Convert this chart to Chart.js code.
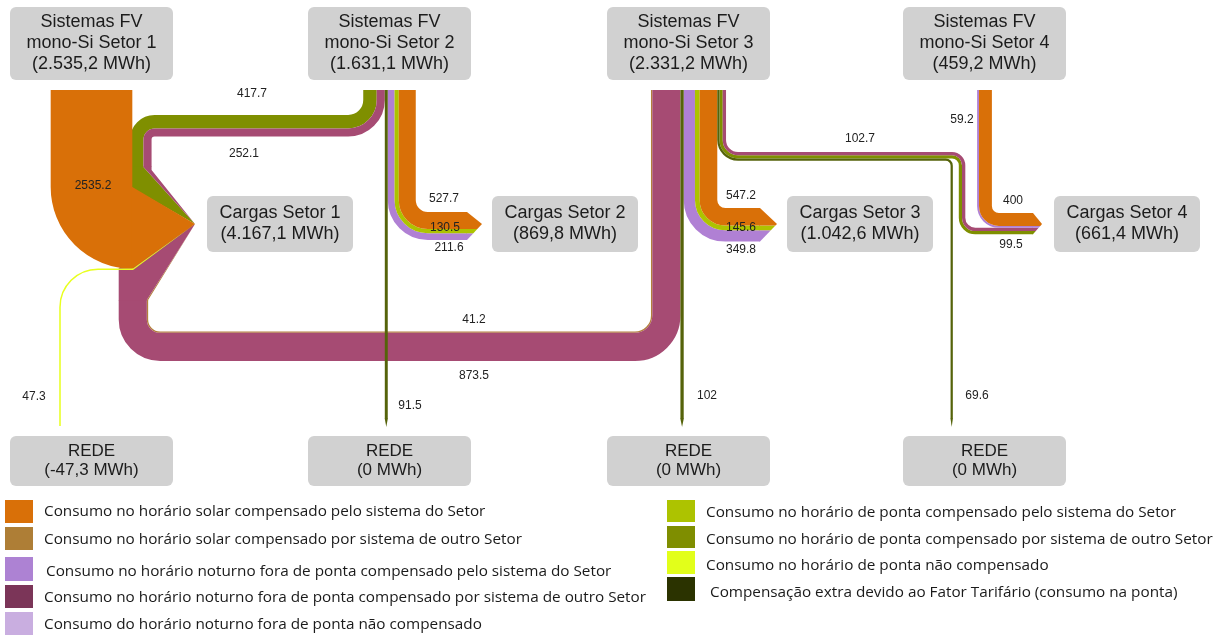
<!DOCTYPE html>
<html lang="pt-BR">
<head>
<meta charset="UTF-8">
<title>Fluxos de energia por Setor</title>
<script src="https://cdn.jsdelivr.net/npm/chart.js"></script>
<style>
  html, body { margin: 0; padding: 0; background: #fff; }
  #wrap { width: 1218px; height: 636px; }
</style>
</head>
<body>
<div id="wrap"><canvas id="fluxos" width="1218" height="636"></canvas></div>
<script>
// ---------- dados ----------
const sourceNames = ['Sistemas FV\nmono-Si Setor 1', 'Sistemas FV\nmono-Si Setor 2', 'Sistemas FV\nmono-Si Setor 3', 'Sistemas FV\nmono-Si Setor 4'];
const sourceTotals = [2535.2, 1631.1, 2331.2, 459.2];
const loadNames = ['Cargas Setor 1', 'Cargas Setor 2', 'Cargas Setor 3', 'Cargas Setor 4'];
const loadTotals = [4167.1, 869.8, 1042.6, 661.4];
const gridNames = ['REDE', 'REDE', 'REDE', 'REDE'];
const gridTotals = [-47.3, 0, 0, 0];

const categories = [
  'Consumo no horário solar compensado pelo sistema do Setor',
  'Consumo no horário solar compensado por sistema de outro Setor',
  'Consumo no horário noturno fora de ponta compensado pelo sistema do Setor',
  'Consumo no horário noturno fora de ponta compensado por sistema de outro Setor',
  'Consumo do horário noturno fora de ponta não compensado',
  'Consumo no horário de ponta compensado pelo sistema do Setor',
  'Consumo no horário de ponta compensado por sistema de outro Setor',
  'Consumo no horário de ponta não compensado',
  'Compensação extra devido ao Fator Tarifário (consumo na ponta)'
];

const linkFrom = ['S1', 'S2', 'S2', 'S2', 'S2', 'S2', 'S2', 'S3', 'S3', 'S3', 'S3', 'S3', 'S3', 'S3', 'S3', 'S3', 'S4', 'S4', 'R1'];
const linkTo = ['C1', 'C1', 'C1', 'R2', 'C2', 'C2', 'C2', 'C1', 'C1', 'R3', 'C3', 'C3', 'C3', 'R4', 'C4', 'C4', 'C4', 'C4', 'C1'];
const linkValues = [2535.2, 417.7, 252.1, 91.5, 211.6, 130.5, 527.7, 41.2, 873.5, 102, 349.8, 145.6, 547.2, 69.6, 99.5, 102.7, 59.2, 400, 47.3];
const linkCategory = [0, 6, 3, 8, 2, 5, 0, 1, 3, 8, 2, 5, 0, 8, 6, 3, 2, 0, 7];

// ---------- layout e estilo ----------
const K = 0.0322;      // largura da faixa por MWh
const COL_TOP = 90;

const bandColor = ['#d97008', '#b3803c', '#b080d4', '#a64b73', '#c9aedf', '#adc300', '#7f8f00', '#e8ff1f', '#55630a'];
const legendColor = ['#d97008', '#ae7e36', '#ad82d3', '#7b3558', '#c9aee0', '#adc300', '#7f8e00', '#e2ff1a', '#2b3300'];

const boxes = {
  S1: { x: 10, y: 7, w: 163, h: 73 }, S2: { x: 308, y: 7, w: 163, h: 73 },
  S3: { x: 607, y: 7, w: 163, h: 73 }, S4: { x: 903, y: 7, w: 163, h: 73 },
  C1: { x: 207, y: 196, w: 146, h: 56 }, C2: { x: 492, y: 196, w: 146, h: 56 },
  C3: { x: 787, y: 196, w: 146, h: 56 }, C4: { x: 1054, y: 196, w: 146, h: 56 },
  R1: { x: 10, y: 436, w: 163, h: 50 }, R2: { x: 308, y: 436, w: 163, h: 50 },
  R3: { x: 607, y: 436, w: 163, h: 50 }, R4: { x: 903, y: 436, w: 163, h: 50 }
};

// pilhas de chegada com ponta de seta
const stacks = {
  C2: { top: 212, order: [6, 5, 4], xe: 467, gap: 10 },
  C3: { top: 208, order: [12, 11, 10], xe: 760, gap: 10 },
  C4: { top: 213, order: [17, 16, 15, 14], xe: 1033, gap: 12 }
};

// faixas que andam juntas; b.h = meia largura do feixe
const bundles = [
  { links: [7, 8], tip: 'C1', ext: { 8: [0, 32] },
    route: b => [[b.cx, COL_TOP], [b.cx, 331.5 + b.h, 16 + b.h], [118.7 + b.h, 331.5 + b.h, 12 + b.h], [118.7 + b.h, 300]] },
  { links: [1, 2], tip: 'C1', ext: { 1: [20, 0], 2: [0, 3] },
    route: b => [[b.cx, COL_TOP], [b.cx, 115 + b.h, 15 + b.h], [130 + b.h, 115 + b.h, 3 + b.h], [130 + b.h, 167]] },
  { links: [4, 5, 6], chevron: 'C2',
    route: b => [[b.cx, COL_TOP], [b.cx, b.yc, 12 + b.h], [b.xe, b.yc]] },
  { links: [10, 11, 12], chevron: 'C3',
    route: b => [[b.cx, COL_TOP], [b.cx, b.yc, 8 + b.h], [b.xe, b.yc]] },
  { links: [14, 15], chevron: 'C4',
    route: b => [[b.cx, COL_TOP], [b.cx, 152 + b.h, 12 + b.h], [958.8 + b.h, 152 + b.h, 10], [958.8 + b.h, b.yc, 13.25], [b.xe, b.yc]] },
  { links: [16, 17], chevron: 'C4',
    route: b => [[b.cx, COL_TOP], [b.cx, b.yc, 7 + b.h], [b.xe, b.yc]] },
  { links: [13], tip: 'R4',
    route: b => { const d = b.edge(15) - b.cx; return [[b.cx, COL_TOP], [b.cx, 152 + d, 12 + d], [951.7, 152 + d, 6], [951.7, 419]]; } },
  { links: [3], tip: 'R2', route: b => [[b.cx, COL_TOP], [b.cx, 419]] },
  { links: [9], tip: 'R3', route: b => [[b.cx, COL_TOP], [b.cx, 419]] },
  { links: [0], tip: 'C1',
    route: b => [[b.cx, COL_TOP], [b.cx, 187 + b.h, b.h + 0.05], [b.cx + b.h, 187 + b.h]] },
  { links: [18], tip: 'C1', route: b => [[60, 426], [60, 269.2, 38], [133, 269.2]] }
];

const labelAt = [[93, 186], [252, 94], [244, 154], [410, 406], [449, 248], [445, 228], [444, 199], [474, 320], [474, 376],
  [707, 396], [741, 250], [741, 228], [741, 196], [977, 396], [1011, 245], [860, 139], [962, 120], [1013, 201], [34, 397]];

const legendRows = [
  { cat: 0, x: 5, y: 500, h: 23, tx: 44, ty: 512 }, { cat: 1, x: 5, y: 527, h: 23, tx: 44, ty: 540 },
  { cat: 2, x: 5, y: 557, h: 24, tx: 46, ty: 572 }, { cat: 3, x: 5, y: 585, h: 23, tx: 44, ty: 598 },
  { cat: 4, x: 5, y: 612, h: 23, tx: 44, ty: 625 },
  { cat: 5, x: 667, y: 500, h: 22, tx: 706, ty: 513 }, { cat: 6, x: 667, y: 526, h: 22, tx: 706, ty: 540 },
  { cat: 7, x: 667, y: 551, h: 23, tx: 706, ty: 566 }, { cat: 8, x: 667, y: 577, h: 24, tx: 710, ty: 593 }
];

// ---------- posicoes derivadas dos valores ----------
const colLeft = [], colCenter = [];
['S1', 'S2', 'S3', 'S4'].forEach(s => {
  const ids = linkValues.map((v, i) => i).filter(i => linkFrom[i] === s);
  const total = ids.reduce((a, i) => a + linkValues[i], 0);
  let x = boxes[s].x + boxes[s].w / 2 - total * K / 2;
  ids.forEach(i => { colLeft[i] = x; colCenter[i] = x + linkValues[i] * K / 2; x += linkValues[i] * K; });
});
const slotTop = [];
Object.values(stacks).forEach(st => {
  let y = st.top;
  st.order.forEach(i => { slotTop[i] = y; y += linkValues[i] * K; });
  st.bottom = y;
});

function bundleInfo(bd) {
  const w = bd.links.reduce((a, i) => a + linkValues[i] * K, 0);
  const lefts = bd.links.map(i => colLeft[i]).filter(v => v !== undefined);
  const b = { w, h: w / 2, edge: i => colLeft[i] + linkValues[i] * K };
  if (lefts.length) b.cx = Math.min(...lefts) + w / 2;
  if (bd.chevron) {
    b.yc = Math.min(...bd.links.map(i => slotTop[i])) + w / 2;
    b.xe = stacks[bd.chevron].xe;
  }
  return b;
}

function fmtBR(v) {
  const neg = v < 0;
  v = Math.abs(v);
  let [i, d] = (Number.isInteger(v) ? String(v) : v.toFixed(1)).split('.');
  i = i.replace(/\B(?=(\d{3})+(?!\d))/g, '.');
  return (neg ? '-' : '') + i + (d ? ',' + d : '');
}

// ---------- geometria ----------
function offsetRoute(pts, radii, o) {
  const n = pts.length, dirs = [], nors = [];
  for (let i = 0; i < n - 1; i++) {
    const dx = pts[i + 1][0] - pts[i][0], dy = pts[i + 1][1] - pts[i][1];
    const L = Math.hypot(dx, dy) || 1;
    dirs.push([dx / L, dy / L]);
    nors.push([-dy / L, dx / L]);
  }
  const q = [], r = [];
  for (let i = 0; i < n; i++) {
    if (i === 0 || i === n - 1) {
      const m = nors[i === 0 ? 0 : n - 2];
      q.push([pts[i][0] + o * m[0], pts[i][1] + o * m[1]]);
      r.push(0);
    } else {
      const a = nors[i - 1], c = nors[i];
      const f = o / (1 + a[0] * c[0] + a[1] * c[1]);
      q.push([pts[i][0] + f * (a[0] + c[0]), pts[i][1] + f * (a[1] + c[1])]);
      const cr = dirs[i - 1][0] * dirs[i][1] - dirs[i - 1][1] * dirs[i][0];
      r.push(Math.max(0.01, radii[i] - Math.sign(cr) * o));
    }
  }
  return { q, r, d: dirs[n - 2], nv: nors[n - 2] };
}

function strokeBand(ctx, q, r, w) {
  ctx.beginPath();
  ctx.moveTo(q[0][0], q[0][1]);
  for (let i = 1; i < q.length - 1; i++) ctx.arcTo(q[i][0], q[i][1], q[i + 1][0], q[i + 1][1], r[i]);
  ctx.lineTo(q[q.length - 1][0], q[q.length - 1][1]);
  ctx.lineWidth = w;
  ctx.stroke();
}

function fillPoly(ctx, poly) {
  ctx.beginPath();
  poly.forEach((p, k) => (k ? ctx.lineTo(p[0], p[1]) : ctx.moveTo(p[0], p[1])));
  ctx.closePath();
  ctx.fill();
}

function tipPiece(g, w, ext, tip) {
  const e = g.q[g.q.length - 1], d = g.d, n = g.nv;
  const EA = [e[0] + n[0] * w / 2 - d[0] * 0.5, e[1] + n[1] * w / 2 - d[1] * 0.5];
  const EB = [e[0] - n[0] * w / 2 - d[0] * 0.5, e[1] - n[1] * w / 2 - d[1] * 0.5];
  const A = [EA[0] + d[0] * (ext[0] + 0.5), EA[1] + d[1] * (ext[0] + 0.5)];
  const B = [EB[0] + d[0] * (ext[1] + 0.5), EB[1] + d[1] * (ext[1] + 0.5)];
  return [EA, A, tip, B, EB];
}

function chevronPiece(yc, w, xe, yt, yb, tip) {
  const ym = tip[1], L = tip[0] - xe;
  const f = y => (y <= ym ? xe + L * (y - yt) / (ym - yt) : xe + L * (yb - y) / (yb - ym));
  const y1 = yc - w / 2, y2 = yc + w / 2;
  const poly = [[xe - 0.5, y1], [f(y1), y1]];
  if (y1 < ym && y2 > ym) poly.push(tip);
  poly.push([f(y2), y2], [xe - 0.5, y2]);
  return poly;
}

function roundBox(ctx, x, y, w, h, r) {
  ctx.beginPath();
  ctx.moveTo(x + r, y);
  ctx.arcTo(x + w, y, x + w, y + h, r);
  ctx.arcTo(x + w, y + h, x, y + h, r);
  ctx.arcTo(x, y + h, x, y, r);
  ctx.arcTo(x, y, x + w, y, r);
  ctx.closePath();
  ctx.fill();
}

// ---------- plugin de desenho ----------
const sankeyPlugin = {
  id: 'sankeyPlugin',
  afterDraw(chart) {
    const { ctx, scales: { x: xs, y: ys } } = chart;
    const px = v => xs.getPixelForValue(v), py = v => ys.getPixelForValue(v);
    const sx = Math.abs(px(1) - px(0));
    ctx.save();
    ctx.lineCap = 'butt';

    // caixas
    ctx.fillStyle = '#d1d1d1';
    Object.values(boxes).forEach(b => roundBox(ctx, px(b.x), py(b.y), b.w * sx, b.h * sx, 6));

    // faixas
    bundles.forEach(bd => {
      const b = bundleInfo(bd);
      const route = bd.route(b);
      const pts = route.map(p => [px(p[0]), py(p[1])]);
      const radii = route.map(p => (p[2] || 0) * sx);
      bd.links.forEach(i => {
        const w = linkValues[i] * K * sx;
        const o = b.cx === undefined ? 0 : (b.cx - colCenter[i]) * sx;
        const g = offsetRoute(pts, radii, o);
        ctx.strokeStyle = ctx.fillStyle = bandColor[linkCategory[i]];
        strokeBand(ctx, g.q, g.r, w);
        const tb = boxes[linkTo[i]];
        let poly;
        if (bd.chevron) {
          const st = stacks[bd.chevron];
          const tip = [px(tb.x - st.gap), py(tb.y + tb.h / 2)];
          poly = chevronPiece(g.q[g.q.length - 1][1], w, px(st.xe), py(st.top), py(st.bottom), tip);
        } else {
          const e = g.q[g.q.length - 1];
          const tip = linkTo[i][0] === 'R' ? [e[0], py(tb.y - 9)] : [px(tb.x - 12), py(tb.y + tb.h / 2)];
          poly = tipPiece(g, w, (bd.ext && bd.ext[i]) || [0, 0], tip);
        }
        fillPoly(ctx, poly);
      });
    });

    // valores das faixas
    ctx.fillStyle = '#222';
    ctx.font = '12px "Liberation Sans", Arial, sans-serif';
    ctx.textAlign = 'center';
    ctx.textBaseline = 'middle';
    linkValues.forEach((v, i) => ctx.fillText(String(v), px(labelAt[i][0]), py(labelAt[i][1])));

    // textos das caixas
    ctx.fillStyle = '#1c1c1c';
    ctx.font = '18px "Liberation Sans", Arial, sans-serif';
    const boxText = (id, lines, gap) => {
      const b = boxes[id], c = b.y + b.h / 2;
      lines.forEach((t, k) => ctx.fillText(t, px(b.x + b.w / 2), py(c + (k - (lines.length - 1) / 2) * gap)));
    };
    sourceNames.forEach((n, k) => boxText('S' + (k + 1), [...n.split('\n'), '(' + fmtBR(sourceTotals[k]) + ' MWh)'], 21));
    loadNames.forEach((n, k) => boxText('C' + (k + 1), [n, '(' + fmtBR(loadTotals[k]) + ' MWh)'], 21));
    ctx.font = '17px "Liberation Sans", Arial, sans-serif';
    gridNames.forEach((n, k) => boxText('R' + (k + 1), [n, '(' + fmtBR(gridTotals[k]) + ' MWh)'], 19.5));

    // legenda
    ctx.textAlign = 'left';
    ctx.font = '15.3px "Open Sans", sans-serif';
    legendRows.forEach(r => {
      ctx.fillStyle = legendColor[r.cat];
      ctx.fillRect(px(r.x), py(r.y), 28 * sx, r.h * sx);
      ctx.fillStyle = '#1a1a1a';
      ctx.fillText(categories[r.cat], px(r.tx), py(r.ty));
    });
    ctx.restore();
  }
};

const nodePoints = Object.values(boxes).map(b => ({ x: b.x + b.w / 2, y: b.y + b.h / 2 }));

new Chart(document.getElementById('fluxos'), {
  type: 'scatter',
  data: { datasets: [{ data: nodePoints, pointRadius: 0, pointHoverRadius: 0 }] },
  options: {
    responsive: false,
    animation: false,
    events: [],
    layout: { padding: 0 },
    plugins: { legend: { display: false }, tooltip: { enabled: false } },
    scales: {
      x: { type: 'linear', min: 0, max: 1218, display: false },
      y: { type: 'linear', min: 0, max: 636, reverse: true, display: false }
    }
  },
  plugins: [sankeyPlugin]
});
</script>
</body>
</html>
